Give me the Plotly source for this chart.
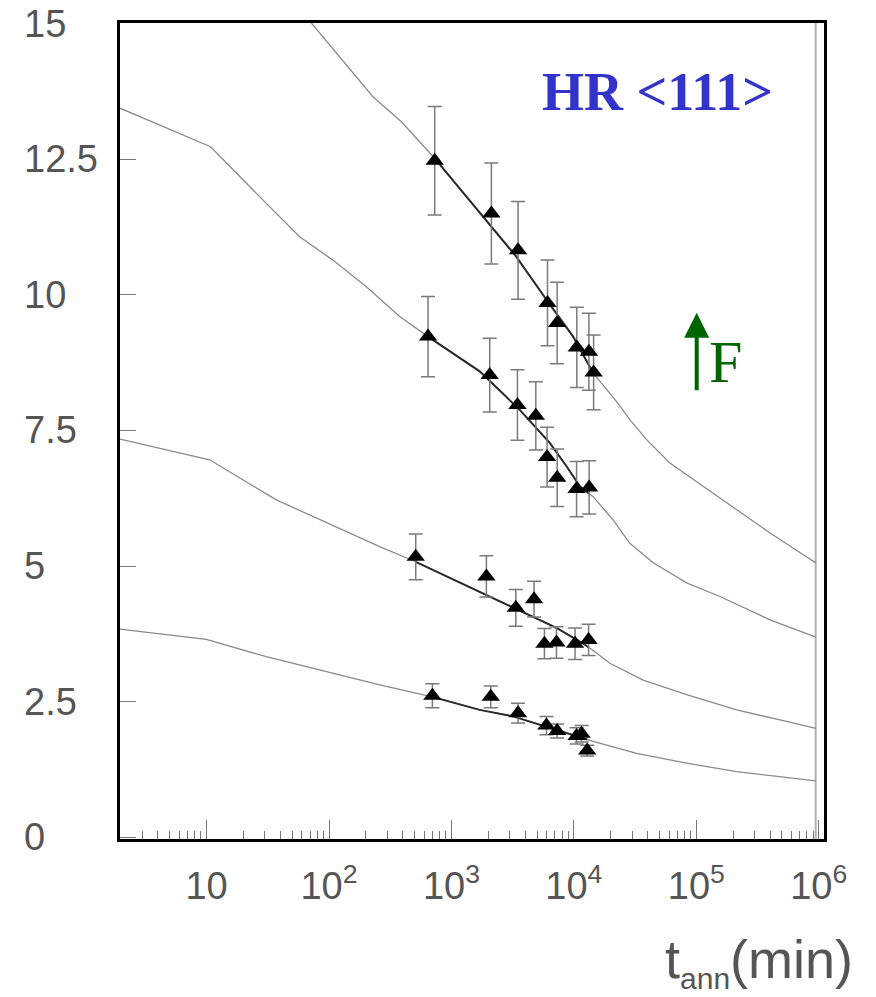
import numpy as np
import plotly.graph_objects as go

# ---------------- data ----------------
# measured points (annealing time in min, value, symmetric error)
t1 = [730, 2120, 3500, 6090, 7300, 10570, 13270, 14500]
v1 = [12.47, 11.50, 10.82, 9.85, 9.48, 9.03, 8.95, 8.57]
e1 = [1.00, 0.93, 0.90, 0.79, 0.75, 0.74, 0.71, 0.69]

t2 = [644, 2055, 3460, 4890, 6040, 7310, 10520, 13330]
v2 = [9.23, 8.52, 7.97, 7.77, 7.01, 6.63, 6.42, 6.45]
e2 = [0.74, 0.68, 0.65, 0.63, 0.55, 0.53, 0.51, 0.49]

t3 = [511, 1930, 3357, 4730, 5750, 7210, 10230, 13190]
v3 = [5.17, 4.81, 4.23, 4.39, 3.57, 3.59, 3.57, 3.64]
e3 = [0.42, 0.38, 0.34, 0.33, 0.28, 0.29, 0.29, 0.29]

t4 = [699, 2095, 3500, 5970, 7300, 10520, 11560, 12850]
v4 = [2.61, 2.59, 2.29, 2.06, 1.96, 1.87, 1.91, 1.60]
e4 = [0.22, 0.20, 0.18, 0.17, 0.13, 0.15, 0.15, 0.10]

# model curves (log10 of time, value)
ca_logt = [1.678, 1.856, 2.359, 2.591, 2.850, 3.258, 3.531, 3.776, 3.994, 4.157,
           4.239, 4.349, 4.457, 4.594, 4.784, 5.056, 5.329, 5.602, 5.874, 5.977]
ca_val = [15.49, 15.01, 13.65, 13.19, 12.55, 11.44, 10.70, 9.91, 9.23, 8.56,
          8.34, 8.03, 7.70, 7.33, 6.90, 6.47, 6.04, 5.61, 5.21, 5.06]

cb_logt = [0.293, 1.033, 1.433, 1.760, 2.032, 2.305, 2.577, 2.809, 3.231, 3.558,
           3.803, 3.940, 4.049, 4.157, 4.321, 4.457, 4.648, 4.921, 5.193, 5.602, 5.977]
cb_val = [13.44, 12.73, 11.81, 11.07, 10.64, 10.15, 9.60, 9.23, 8.59, 7.88,
          7.27, 6.84, 6.47, 6.28, 5.85, 5.42, 5.06, 4.69, 4.44, 4.01, 3.69]

cc_logt = [0.293, 1.025, 1.570, 2.087, 2.414, 2.708, 3.231, 3.504, 3.858, 4.049,
           4.130, 4.294, 4.566, 4.921, 5.329, 5.710, 5.977]
cc_val = [7.34, 6.96, 6.22, 5.70, 5.36, 5.08, 4.53, 4.23, 3.86, 3.61,
          3.49, 3.21, 2.90, 2.63, 2.35, 2.15, 2.01]

cd_logt = [0.293, 0.998, 1.488, 2.032, 2.414, 2.845, 3.231, 3.504, 3.777, 4.157,
           4.512, 4.921, 5.329, 5.977]
cd_val = [3.84, 3.65, 3.33, 3.03, 2.81, 2.59, 2.35, 2.23, 2.04, 1.77,
          1.55, 1.37, 1.21, 1.04]

x_tick_vals = [10, 100, 1000, 10000, 100000, 1000000]
x_tick_text = ["10", "10<sup>2</sup>", "10<sup>3</sup>", "10<sup>4</sup>",
               "10<sup>5</sup>", "10<sup>6</sup>"]
y_tick_vals = [0, 2.5, 5, 7.5, 10, 12.5, 15]
y_tick_text = ["0", "2.5", "5", "7.5", "10", "12.5", "15"]

x_range_log = [0.293, 6.043]
y_range = [-0.03, 15.01]
edge_logt = 5.975

# ---------------- figure ----------------
fig = go.Figure()

series = [(t1, v1, e1, ca_logt, ca_val), (t2, v2, e2, cb_logt, cb_val),
          (t3, v3, e3, cc_logt, cc_val), (t4, v4, e4, cd_logt, cd_val)]

# right gray edge line
fig.add_trace(go.Scatter(x=[10 ** edge_logt] * 2, y=y_range, mode="lines",
                         line=dict(color="#b0b0b0", width=2), hoverinfo="skip"))

for t, v, e, clog, cval in series:
    fig.add_trace(go.Scatter(x=np.power(10.0, clog), y=cval, mode="lines",
                             line=dict(color="#8a8a8a", width=1.3), hoverinfo="skip"))
    lo, hi = np.log10(min(t)), np.log10(max(t))
    clog_a = np.array(clog)
    inner = clog_a[(clog_a > lo) & (clog_a < hi)]
    seg_log = np.concatenate([[lo], inner, [hi]])
    seg_val = np.interp(seg_log, clog, cval)
    fig.add_trace(go.Scatter(x=np.power(10.0, seg_log), y=seg_val, mode="lines",
                             line=dict(color="#2a2a2a", width=2), hoverinfo="skip"))

for t, v, e, clog, cval in series:
    fig.add_trace(go.Scatter(
        x=t, y=v, mode="markers",
        marker=dict(symbol="triangle-up", size=16, color="black", line=dict(width=0)),
        error_y=dict(type="data", array=e, visible=True, color="#7a7a7a",
                     thickness=1.5, width=7),
    ))

minor_vals = [k * 10 ** p for p in range(0, 7) for k in range(2, 10)]

fig.update_layout(
    width=876, height=997,
    margin=dict(l=120, r=52, t=23, b=158),
    paper_bgcolor="white", plot_bgcolor="white",
    showlegend=False,
    xaxis=dict(
        type="log", range=x_range_log,
        showgrid=False, zeroline=False,
        showline=True, linecolor="black", linewidth=2.5, mirror=True,
        ticks="inside", ticklen=19, tickcolor="#777777", tickwidth=1.3,
        tickvals=x_tick_vals, ticktext=x_tick_text,
        tickfont=dict(family="Liberation Sans", size=38, color="#555555"),
        ticklabelstandoff=12,
        minor=dict(tickvals=minor_vals, ticks="inside", ticklen=8,
                   tickcolor="#777777", tickwidth=1, showgrid=False),
    ),
    yaxis=dict(
        range=y_range,
        showgrid=False, zeroline=False,
        showline=True, linecolor="black", linewidth=2.5, mirror=True,
        ticks="inside", ticklen=16, tickcolor="#777777", tickwidth=1.3,
        tickvals=y_tick_vals, showticklabels=False,
    ),
)

annotations = []
for val, txt in zip(y_tick_vals, y_tick_text):
    annotations.append(dict(x=-0.139, y=val, xref="paper", yref="y",
                            xanchor="left", yanchor="middle", showarrow=False,
                            text=txt, font=dict(family="Liberation Sans", size=38,
                                                color="#555555")))

annotations.append(dict(x=1.044, y=-0.151, xref="paper", yref="paper",
                        xanchor="right", yanchor="middle", showarrow=False,
                        text="t<sub><span style=\"font-size:30px\">ann</span></sub>(min)",
                        font=dict(family="Liberation Sans", size=54, color="#555555")))

annotations.append(dict(x=0.763, y=0.9154, xref="paper", yref="paper",
                        xanchor="center", yanchor="middle", showarrow=False,
                        text="<b>HR &lt;111&gt;</b>",
                        font=dict(family="Liberation Serif", size=54, color="#3333cc")))

annotations.append(dict(x=0.8192, y=0.645, xref="paper", yref="paper",
                        showarrow=True, text="", ax=0, ay=79,
                        arrowhead=2, arrowsize=1.25, arrowwidth=4,
                        arrowcolor="#006400"))

annotations.append(dict(x=(707 - 120) / 704, y=(839 - 362) / 816, xref="paper", yref="paper",
                        xanchor="left", yanchor="middle", showarrow=False,
                        text="F",
                        font=dict(family="Liberation Serif", size=60, color="#006400")))

fig.update_layout(annotations=annotations)

fig.write_html("out.html")
